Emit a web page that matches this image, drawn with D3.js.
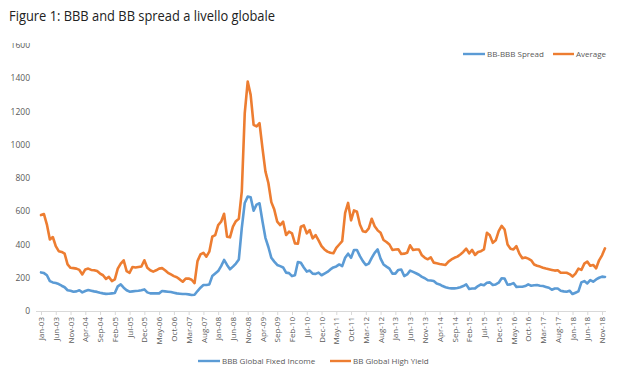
<!DOCTYPE html>
<html><head><meta charset="utf-8">
<script src="https://cdn.jsdelivr.net/npm/d3@7/dist/d3.min.js"></script>
<style>body{margin:0;background:#fff}svg{display:block}</style>
</head><body>
<svg id="c" width="634" height="375"></svg>
<script>
// Monthly data Jan-03 .. Dec-18
const bbb = [232,228,215,180,172,168,162,152,143,125,122,116,118,125,112,120,126,122,118,115,110,106,103,104,106,108,148,160,140,125,
116,118,120,122,125,130,112,106,106,106,106,120,118,116,114,110,106,104,102,102,100,96,98,120,140,156,156,160,210,225,
240,270,307,277,251,267,285,310,500,650,688,684,603,640,648,540,440,385,320,297,277,270,262,231,228,210,215,295,290,262,
237,243,225,223,231,215,225,235,250,262,268,280,270,320,345,320,367,367,330,300,277,285,320,350,370,315,280,267,255,225,
225,247,250,210,220,243,235,227,218,205,197,185,183,180,165,160,150,143,138,136,136,138,143,150,160,132,135,136,150,160,
155,170,172,156,160,170,197,195,158,160,168,145,146,146,150,160,152,155,156,152,150,145,140,128,135,135,122,118,116,122,
102,110,118,172,180,166,186,176,190,200,207,205];
const bb = [577,583,520,430,445,390,360,355,345,280,260,258,255,247,220,250,255,247,245,240,225,215,193,205,180,190,255,285,305,240,
230,265,262,265,268,305,260,245,237,245,255,258,245,230,220,210,203,190,176,195,195,188,168,300,340,350,327,357,447,457,
517,537,585,447,443,507,540,555,720,1190,1380,1300,1120,1110,1130,980,840,770,655,610,537,517,537,457,477,467,407,405,507,515,
467,487,437,457,425,390,370,357,350,347,380,400,420,590,650,545,605,597,520,480,475,497,555,510,485,470,427,415,400,367,
370,371,343,345,350,395,367,370,370,335,320,311,323,291,287,283,280,277,297,310,320,327,340,355,375,347,367,337,355,360,
370,470,455,410,425,480,512,490,400,375,370,390,345,317,322,315,305,280,272,267,260,255,251,247,243,245,230,230,230,222,
207,225,255,247,285,297,272,277,257,305,335,377];
const tickLabels = ["Jan-03","Jun-03","Nov-03","Apr-04","Sep-04","Feb-05","Jul-05","Dec-05","May-06","Oct-06","Mar-07","Aug-07",
"Jan-08","Jun-08","Nov-08","Apr-09","Sep-09","Feb-10","Jul-10","Dec-10","May-11","Oct-11","Mar-12","Aug-12","Jan-13","Jun-13",
"Nov-13","Apr-14","Sep-14","Feb-15","Jul-15","Dec-15","May-16","Oct-16","Mar-17","Aug-17","Jan-18","Jun-18","Nov-18"];
const yTicks = [0,200,400,600,800,1000,1200,1400,1600];
const seriesNames = ["BBB Global Fixed Income","BB Global High Yield"];
const topLegend = ["BB-BBB Spread","Average"];
const colors = ["#5B9BD5","#ED7D31"];

const svg = d3.select("#c");
const font = "'Open Sans', 'Liberation Sans', sans-serif";
const x = d3.scaleLinear().domain([0, bbb.length-1]).range([41, 605]);
const y = d3.scaleLinear().domain([0,1600]).range([311,45]);

// title
svg.append("text").attr("x",9).attr("y",21).attr("font-family",font).attr("font-size",14)
  .attr("fill","#222").attr("textLength",266).attr("lengthAdjust","spacingAndGlyphs")
  .text("Figure 1: BBB and BB spread a livello globale");

// y axis labels (top label clipped as in reference)
svg.append("clipPath").attr("id","yc").append("rect").attr("x",0).attr("y",43).attr("width",40).attr("height",300);
const yOuter = svg.append("g").attr("clip-path","url(#yc)");
const ya = yOuter.append("g").attr("transform","translate(30,0)")
  .call(d3.axisLeft(y).tickValues(yTicks).tickSize(0).tickPadding(0).tickFormat(d3.format("d")));
ya.select(".domain").remove();
ya.selectAll("text").attr("font-family",font).attr("font-size",8.5).attr("fill","#595959");

// x axis
const tickIdx = tickLabels.map((d,i)=>i*5);
const xa = svg.append("g").attr("transform","translate(0,311)")
  .call(d3.axisBottom(x).tickValues(tickIdx).tickSize(4).tickSizeOuter(0).tickFormat((d,i)=>tickLabels[i]));
xa.select(".domain").attr("d","M36,0.5H606").attr("stroke","#d9d9d9");
xa.selectAll(".tick line").attr("stroke","#d9d9d9");
xa.selectAll("text").attr("font-family",font).attr("font-size",8).attr("fill","#595959")
  .attr("transform","rotate(-90)").attr("text-anchor","end").attr("x",-6).attr("y",0).attr("dy","0.33em");

// lines
const line = d3.line().x((d,i)=>x(i)).y(d=>y(d));
[bbb, bb].forEach((s,k)=>{
  svg.append("path").datum(s).attr("d",line).attr("fill","none").attr("stroke",colors[k])
    .attr("stroke-width",2.6).attr("stroke-linejoin","round").attr("stroke-linecap","round");
});

// top legend
const tl = [{x1:463,x2:485,tx:487,label:topLegend[0],c:colors[0]},{x1:553,x2:574,tx:576,label:topLegend[1],c:colors[1]}];
tl.forEach(d=>{
  svg.append("line").attr("x1",d.x1).attr("x2",d.x2).attr("y1",54).attr("y2",54).attr("stroke",d.c).attr("stroke-width",2.4);
  svg.append("text").attr("x",d.tx).attr("y",57).attr("font-family",font).attr("font-size",8).attr("fill","#595959").text(d.label);
});
// bottom legend
const bl = [{x1:198,x2:220,tx:222,label:seriesNames[0],c:colors[0]},{x1:330,x2:351,tx:353,label:seriesNames[1],c:colors[1]}];
bl.forEach(d=>{
  svg.append("line").attr("x1",d.x1).attr("x2",d.x2).attr("y1",361).attr("y2",361).attr("stroke",d.c).attr("stroke-width",2.4);
  svg.append("text").attr("x",d.tx).attr("y",364).attr("font-family",font).attr("font-size",8).attr("fill","#595959").text(d.label);
});
</script>
</body></html>
